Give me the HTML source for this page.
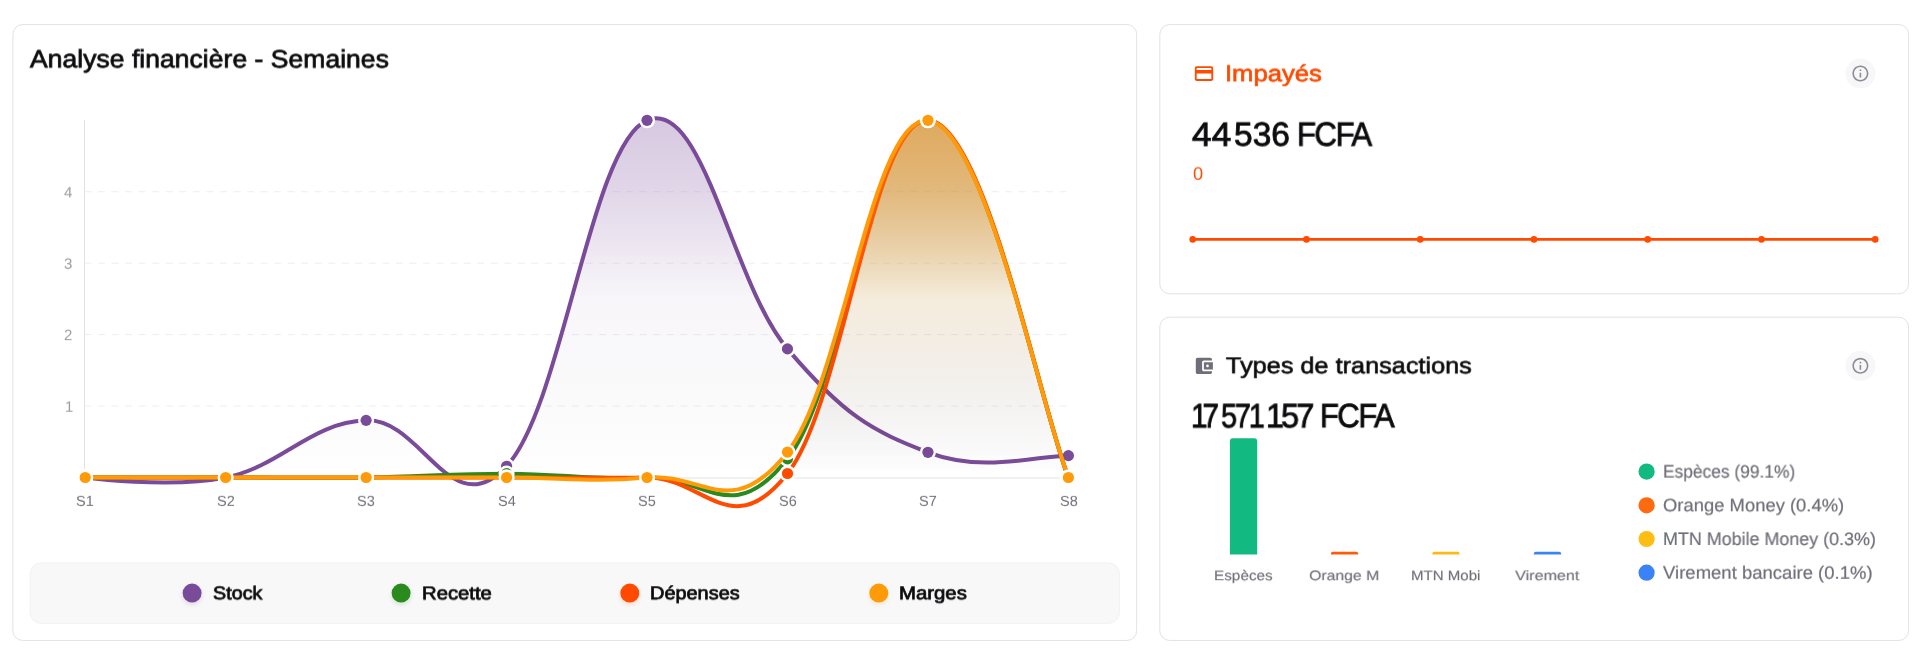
<!DOCTYPE html>
<html lang="fr">
<head>
<meta charset="utf-8">
<title>Analyse financière</title>
<style>
html,body{margin:0;padding:0;background:#fff;}
body{width:1920px;height:660px;position:relative;overflow:hidden;font-family:"Liberation Sans", sans-serif;}
.card{position:absolute;box-sizing:border-box;background:#fff;border:1.2px solid #e0e0e6;border-radius:9px;}
#c_main{left:12px;top:24px;width:1125px;height:617px;}
#c_imp{left:1159px;top:24px;width:750px;height:270px;}
#c_typ{left:1159px;top:316.5px;width:750px;height:324.5px;}
#legend{position:absolute;box-sizing:border-box;left:30px;top:562.5px;width:1089.5px;height:60px;background:#f8f8f9;border:1px solid #f1f1f3;border-radius:11px;}
svg{position:absolute;left:0;top:0;}
.t{position:absolute;white-space:nowrap;font-family:"Liberation Sans", sans-serif;transform-origin:0 50%;text-rendering:geometricPrecision;will-change:transform;}
#t_title{left:30.01px;top:47.00px;font-size:24.90px;line-height:24.90px;color:#0c0c0e;font-weight:400;transform:translateY(0.31px) rotate(.03deg) scaleX(1.0674);-webkit-text-stroke:0.75px #0c0c0e;}
#t_y4{left:63.50px;top:185.00px;font-size:15.00px;line-height:15.00px;color:#9a9aa0;font-weight:400;transform:translateY(0.35px) rotate(.03deg) scaleX(1.0000);}
#t_y3{left:64.06px;top:256.00px;font-size:15.00px;line-height:15.00px;color:#9a9aa0;font-weight:400;transform:translateY(0.80px) rotate(.03deg) scaleX(1.0000);}
#t_y2{left:63.50px;top:328.00px;font-size:15.00px;line-height:15.00px;color:#9a9aa0;font-weight:400;transform:translateY(0.15px) rotate(.03deg) scaleX(1.0000);}
#t_y1{left:65.21px;top:399.00px;font-size:15.00px;line-height:15.00px;color:#9a9aa0;font-weight:400;transform:translateY(0.70px) rotate(.03deg) scaleX(1.0000);}
#t_l1{left:212.67px;top:584.00px;font-size:18.50px;line-height:18.50px;color:#0c0c0e;font-weight:400;transform:translateY(0.27px) rotate(.03deg) scaleX(1.0684);-webkit-text-stroke:0.75px #0c0c0e;}
#t_l2{left:421.51px;top:584.00px;font-size:18.50px;line-height:18.50px;color:#0c0c0e;font-weight:400;transform:translateY(0.34px) rotate(.03deg) scaleX(1.0963);-webkit-text-stroke:0.75px #0c0c0e;}
#t_l3{left:650.47px;top:584.00px;font-size:18.50px;line-height:18.50px;color:#0c0c0e;font-weight:400;transform:translateY(0.21px) rotate(.03deg) scaleX(1.0766);-webkit-text-stroke:0.75px #0c0c0e;}
#t_l4{left:899.47px;top:584.00px;font-size:18.50px;line-height:18.50px;color:#0c0c0e;font-weight:400;transform:translateY(0.21px) rotate(.03deg) scaleX(1.1001);-webkit-text-stroke:0.75px #0c0c0e;}
#t_imp{left:1224.61px;top:62.00px;font-size:23.00px;line-height:23.00px;color:#ff4a00;font-weight:400;transform:translateY(0.25px) rotate(.03deg) scaleX(1.1143);-webkit-text-stroke:0.65px #ff4a00;}
#t_n1a{left:1192.37px;top:118.00px;font-size:33.50px;line-height:33.50px;color:#0c0c0e;font-weight:400;transform:translateY(0.79px) rotate(.03deg) scaleX(1.0521);-webkit-text-stroke:0.85px #0c0c0e;}
#t_n1b{left:1234.32px;top:118.00px;font-size:33.50px;line-height:33.50px;color:#0c0c0e;font-weight:400;transform:translateY(0.66px) rotate(.03deg) scaleX(0.9994);-webkit-text-stroke:0.85px #0c0c0e;}
#t_n1c{left:1296.61px;top:118.00px;font-size:33.50px;line-height:33.50px;color:#0c0c0e;font-weight:400;transform:translateY(0.69px) rotate(.03deg) scaleX(0.9297);-webkit-text-stroke:0.85px #0c0c0e;letter-spacing:-1.60px;}
#t_zero{left:1193.00px;top:164.00px;font-size:18.20px;line-height:18.20px;color:#ff4a00;font-weight:400;transform:translateY(0.75px) rotate(.03deg) scaleX(1.0000);}
#t_typ{left:1226.02px;top:354.00px;font-size:22.90px;line-height:22.90px;color:#0c0c0e;font-weight:400;transform:translateY(0.24px) rotate(.03deg) scaleX(1.1039);-webkit-text-stroke:0.60px #0c0c0e;}
#t_n2a{left:1190.92px;top:399.00px;font-size:33.90px;line-height:33.90px;color:#0c0c0e;font-weight:400;transform:translateY(1.39px) rotate(.03deg) scaleX(0.8737);-webkit-text-stroke:0.85px #0c0c0e;letter-spacing:-5.50px;}
#t_n2b{left:1221.43px;top:399.00px;font-size:33.90px;line-height:33.90px;color:#0c0c0e;font-weight:400;transform:translateY(1.39px) rotate(.03deg) scaleX(0.8535);-webkit-text-stroke:0.85px #0c0c0e;letter-spacing:-2.60px;}
#t_n2c{left:1266.31px;top:399.00px;font-size:33.90px;line-height:33.90px;color:#0c0c0e;font-weight:400;transform:translateY(1.31px) rotate(.03deg) scaleX(0.9573);-webkit-text-stroke:0.85px #0c0c0e;letter-spacing:-3.00px;}
#t_n2d{left:1319.75px;top:399.00px;font-size:33.50px;line-height:33.50px;color:#0c0c0e;font-weight:400;transform:translateY(1.11px) rotate(.03deg) scaleX(0.9237);-webkit-text-stroke:0.85px #0c0c0e;letter-spacing:-1.60px;}
#t_b1{left:1213.87px;top:569.00px;font-size:13.80px;line-height:13.80px;color:#70707a;font-weight:400;transform:translateY(0.20px) rotate(.03deg) scaleX(1.1098);-webkit-text-stroke:0.15px #70707a;}
#t_b2{left:1309.40px;top:569.00px;font-size:13.80px;line-height:13.80px;color:#70707a;font-weight:400;transform:translateY(0.20px) rotate(.03deg) scaleX(1.1451);-webkit-text-stroke:0.15px #70707a;}
#t_b3{left:1411.47px;top:569.00px;font-size:13.80px;line-height:13.80px;color:#70707a;font-weight:400;transform:translateY(0.20px) rotate(.03deg) scaleX(1.0917);-webkit-text-stroke:0.15px #70707a;}
#t_b4{left:1515.20px;top:569.00px;font-size:13.80px;line-height:13.80px;color:#70707a;font-weight:400;transform:translateY(0.20px) rotate(.03deg) scaleX(1.1720);-webkit-text-stroke:0.15px #70707a;}
#t_k1{left:1662.65px;top:462.00px;font-size:18.00px;line-height:18.00px;color:#6f6f79;font-weight:400;transform:translateY(0.60px) rotate(.03deg) scaleX(0.9652);-webkit-text-stroke:0.20px #6f6f79;}
#t_k2{left:1663.07px;top:496.00px;font-size:18.00px;line-height:18.00px;color:#6f6f79;font-weight:400;transform:translateY(0.30px) rotate(.03deg) scaleX(1.0233);-webkit-text-stroke:0.20px #6f6f79;}
#t_k3{left:1662.91px;top:530.00px;font-size:18.00px;line-height:18.00px;color:#6f6f79;font-weight:400;transform:translateY(-0.00px) rotate(.03deg) scaleX(0.9950);-webkit-text-stroke:0.20px #6f6f79;}
#t_k4{left:1663.42px;top:563.00px;font-size:18.00px;line-height:18.00px;color:#6f6f79;font-weight:400;transform:translateY(0.70px) rotate(.03deg) scaleX(1.0288);-webkit-text-stroke:0.20px #6f6f79;}
#t_x0{left:76.18px;top:494.00px;font-size:14.50px;line-height:14.50px;color:#70707a;font-weight:400;transform:translateY(0.84px) rotate(.03deg) scaleX(1.0000);}
#t_x1{left:216.71px;top:494.00px;font-size:14.50px;line-height:14.50px;color:#70707a;font-weight:400;transform:translateY(0.83px) rotate(.03deg) scaleX(1.0000);}
#t_x2{left:357.17px;top:494.00px;font-size:14.50px;line-height:14.50px;color:#70707a;font-weight:400;transform:translateY(0.83px) rotate(.03deg) scaleX(1.0000);}
#t_x3{left:497.51px;top:494.00px;font-size:14.50px;line-height:14.50px;color:#70707a;font-weight:400;transform:translateY(0.90px) rotate(.03deg) scaleX(1.0000);}
#t_x4{left:637.87px;top:494.00px;font-size:14.50px;line-height:14.50px;color:#70707a;font-weight:400;transform:translateY(0.83px) rotate(.03deg) scaleX(1.0000);}
#t_x5{left:778.65px;top:494.00px;font-size:14.50px;line-height:14.50px;color:#70707a;font-weight:400;transform:translateY(0.83px) rotate(.03deg) scaleX(1.0000);}
#t_x6{left:919.49px;top:494.00px;font-size:14.50px;line-height:14.50px;color:#70707a;font-weight:400;transform:translateY(0.84px) rotate(.03deg) scaleX(1.0000);}
#t_x7{left:1059.50px;top:494.00px;font-size:14.50px;line-height:14.50px;color:#70707a;font-weight:400;transform:translateY(0.89px) rotate(.03deg) scaleX(1.0000);}
</style>
</head>
<body>
<svg width="1920" height="660" viewBox="0 0 1920 660">
<g fill="#fff" stroke="#e2e2e8" stroke-width="1">
<rect x="12.9" y="24.55" width="1123.75" height="615.9" rx="9.8"/>
<rect x="1159.8" y="24.55" width="748.75" height="269.25" rx="9.8"/>
<rect x="1159.8" y="317.2" width="748.75" height="323.25" rx="9.8"/>
</g>
<rect x="30.15" y="562.9" width="1089.3" height="60.5" rx="11" fill="#f8f8f9" stroke="#f2f2f4" stroke-width="1"/>
<defs><filter id="blur" x="-50%" y="-50%" width="200%" height="200%"><feGaussianBlur stdDeviation="2"/></filter></defs>
<defs>
<linearGradient id="g_stk" gradientUnits="userSpaceOnUse" x1="0" y1="120.3" x2="0" y2="477.5"><stop offset="0.000" stop-color="#7a4b99" stop-opacity="0.300"/><stop offset="0.200" stop-color="#7a4b99" stop-opacity="0.225"/><stop offset="0.500" stop-color="#7a4b99" stop-opacity="0.050"/><stop offset="1.000" stop-color="#000000" stop-opacity="0.000"/></linearGradient>
<linearGradient id="g_rec" gradientUnits="userSpaceOnUse" x1="0" y1="120.3" x2="0" y2="477.5"><stop offset="0.000" stop-color="#2a8a1e" stop-opacity="0.300"/><stop offset="0.200" stop-color="#2a8a1e" stop-opacity="0.225"/><stop offset="0.500" stop-color="#2a8a1e" stop-opacity="0.050"/><stop offset="1.000" stop-color="#000000" stop-opacity="0.000"/></linearGradient>
<linearGradient id="g_dep" gradientUnits="userSpaceOnUse" x1="0" y1="120.3" x2="0" y2="477.5"><stop offset="0.000" stop-color="#ff4a00" stop-opacity="0.300"/><stop offset="0.200" stop-color="#ff4a00" stop-opacity="0.225"/><stop offset="0.500" stop-color="#ff4a00" stop-opacity="0.050"/><stop offset="1.000" stop-color="#000000" stop-opacity="0.000"/></linearGradient>
<linearGradient id="g_mar" gradientUnits="userSpaceOnUse" x1="0" y1="120.3" x2="0" y2="477.5"><stop offset="0.000" stop-color="#ff9a08" stop-opacity="0.300"/><stop offset="0.200" stop-color="#ff9a08" stop-opacity="0.225"/><stop offset="0.500" stop-color="#ff9a08" stop-opacity="0.050"/><stop offset="1.000" stop-color="#000000" stop-opacity="0.000"/></linearGradient>
<clipPath id="cfill"><rect x="0" y="0" width="1920" height="477.5"/></clipPath>
</defs>
<line x1="84.5" y1="120" x2="84.5" y2="478.5" stroke="#e1e1e5" stroke-width="1"/>
<line x1="84" y1="478" x2="1068.5" y2="478" stroke="#e2e2e5" stroke-width="1"/>
<line x1="84.5" y1="406.06" x2="1068.5" y2="406.06" stroke="#eeeef1" stroke-width="1" stroke-dasharray="7 6.54"/>
<line x1="84.5" y1="334.62" x2="1068.5" y2="334.62" stroke="#eeeef1" stroke-width="1" stroke-dasharray="7 6.54"/>
<line x1="84.5" y1="263.18" x2="1068.5" y2="263.18" stroke="#eeeef1" stroke-width="1" stroke-dasharray="7 6.54"/>
<line x1="84.5" y1="191.74" x2="1068.5" y2="191.74" stroke="#eeeef1" stroke-width="1" stroke-dasharray="7 6.54"/>
<path d="M85.20 477.50C85.20 477.50 169.47 488.93 225.66 477.50C281.84 466.07 309.93 422.59 366.11 420.35C422.30 418.10 450.39 526.29 506.57 466.28C562.75 406.27 590.85 143.78 647.03 120.30C703.21 96.82 731.30 282.51 787.49 348.91C843.67 415.30 871.76 430.94 927.94 452.28C984.13 473.63 1040.31 454.97 1068.40 455.64L1068.40 477.50 L85.20 477.50 Z" fill="url(#g_stk)" clip-path="url(#cfill)"/>
<path d="M85.20 477.50C85.20 477.50 169.47 488.93 225.66 477.50C281.84 466.07 309.93 422.59 366.11 420.35C422.30 418.10 450.39 526.29 506.57 466.28C562.75 406.27 590.85 143.78 647.03 120.30C703.21 96.82 731.30 282.51 787.49 348.91C843.67 415.30 871.76 430.94 927.94 452.28C984.13 473.63 1040.31 454.97 1068.40 455.64" fill="none" stroke="#7a4b99" stroke-width="4.00" stroke-linecap="round" stroke-linejoin="round"/>
<circle cx="85.20" cy="477.50" r="8.05" fill="#fff"/>
<circle cx="85.20" cy="477.50" r="5.60" fill="#7a4b99"/>
<circle cx="225.66" cy="477.50" r="8.05" fill="#fff"/>
<circle cx="225.66" cy="477.50" r="5.60" fill="#7a4b99"/>
<circle cx="366.11" cy="420.35" r="8.05" fill="#fff"/>
<circle cx="366.11" cy="420.35" r="5.60" fill="#7a4b99"/>
<circle cx="506.57" cy="466.28" r="8.05" fill="#fff"/>
<circle cx="506.57" cy="466.28" r="5.60" fill="#7a4b99"/>
<circle cx="647.03" cy="120.30" r="8.05" fill="#fff"/>
<circle cx="647.03" cy="120.30" r="5.60" fill="#7a4b99"/>
<circle cx="787.49" cy="348.91" r="8.05" fill="#fff"/>
<circle cx="787.49" cy="348.91" r="5.60" fill="#7a4b99"/>
<circle cx="927.94" cy="452.28" r="8.05" fill="#fff"/>
<circle cx="927.94" cy="452.28" r="5.60" fill="#7a4b99"/>
<circle cx="1068.40" cy="455.64" r="8.05" fill="#fff"/>
<circle cx="1068.40" cy="455.64" r="5.60" fill="#7a4b99"/>
<path d="M85.20 477.50C85.20 477.50 169.47 477.50 225.66 477.50C281.84 477.50 309.93 478.27 366.11 477.50C422.30 476.73 450.39 473.64 506.57 473.64C562.75 473.64 590.85 480.47 647.03 477.50C703.21 474.53 731.30 530.22 787.49 458.78C843.67 387.34 871.76 116.56 927.94 120.30C984.13 124.04 1040.31 406.06 1068.40 477.50L1068.40 477.50 L85.20 477.50 Z" fill="url(#g_rec)" clip-path="url(#cfill)"/>
<path d="M85.20 477.50C85.20 477.50 169.47 477.50 225.66 477.50C281.84 477.50 309.93 478.27 366.11 477.50C422.30 476.73 450.39 473.64 506.57 473.64C562.75 473.64 590.85 480.47 647.03 477.50C703.21 474.53 731.30 530.22 787.49 458.78C843.67 387.34 871.76 116.56 927.94 120.30C984.13 124.04 1040.31 406.06 1068.40 477.50" fill="none" stroke="#2a8a1e" stroke-width="4.00" stroke-linecap="round" stroke-linejoin="round"/>
<circle cx="85.20" cy="477.50" r="8.05" fill="#fff"/>
<circle cx="85.20" cy="477.50" r="5.60" fill="#2a8a1e"/>
<circle cx="225.66" cy="477.50" r="8.05" fill="#fff"/>
<circle cx="225.66" cy="477.50" r="5.60" fill="#2a8a1e"/>
<circle cx="366.11" cy="477.50" r="8.05" fill="#fff"/>
<circle cx="366.11" cy="477.50" r="5.60" fill="#2a8a1e"/>
<circle cx="506.57" cy="473.64" r="8.05" fill="#fff"/>
<circle cx="506.57" cy="473.64" r="5.60" fill="#2a8a1e"/>
<circle cx="647.03" cy="477.50" r="8.05" fill="#fff"/>
<circle cx="647.03" cy="477.50" r="5.60" fill="#2a8a1e"/>
<circle cx="787.49" cy="458.78" r="8.05" fill="#fff"/>
<circle cx="787.49" cy="458.78" r="5.60" fill="#2a8a1e"/>
<circle cx="927.94" cy="120.30" r="8.05" fill="#fff"/>
<circle cx="927.94" cy="120.30" r="5.60" fill="#2a8a1e"/>
<circle cx="1068.40" cy="477.50" r="8.05" fill="#fff"/>
<circle cx="1068.40" cy="477.50" r="5.60" fill="#2a8a1e"/>
<path d="M85.20 477.50C85.20 477.50 169.47 477.50 225.66 477.50C281.84 477.50 309.93 477.50 366.11 477.50C422.30 477.50 450.39 477.50 506.57 477.50C562.75 477.50 590.85 478.30 647.03 477.50C703.21 476.70 731.30 544.94 787.49 473.50C843.67 402.06 871.76 119.50 927.94 120.30C984.13 121.10 1040.31 406.06 1068.40 477.50L1068.40 477.50 L85.20 477.50 Z" fill="url(#g_dep)" clip-path="url(#cfill)"/>
<path d="M85.20 477.50C85.20 477.50 169.47 477.50 225.66 477.50C281.84 477.50 309.93 477.50 366.11 477.50C422.30 477.50 450.39 477.50 506.57 477.50C562.75 477.50 590.85 478.30 647.03 477.50C703.21 476.70 731.30 544.94 787.49 473.50C843.67 402.06 871.76 119.50 927.94 120.30C984.13 121.10 1040.31 406.06 1068.40 477.50" fill="none" stroke="#ff4a00" stroke-width="4.00" stroke-linecap="round" stroke-linejoin="round"/>
<circle cx="85.20" cy="477.50" r="8.05" fill="#fff"/>
<circle cx="85.20" cy="477.50" r="5.60" fill="#ff4a00"/>
<circle cx="225.66" cy="477.50" r="8.05" fill="#fff"/>
<circle cx="225.66" cy="477.50" r="5.60" fill="#ff4a00"/>
<circle cx="366.11" cy="477.50" r="8.05" fill="#fff"/>
<circle cx="366.11" cy="477.50" r="5.60" fill="#ff4a00"/>
<circle cx="506.57" cy="477.50" r="8.05" fill="#fff"/>
<circle cx="506.57" cy="477.50" r="5.60" fill="#ff4a00"/>
<circle cx="647.03" cy="477.50" r="8.05" fill="#fff"/>
<circle cx="647.03" cy="477.50" r="5.60" fill="#ff4a00"/>
<circle cx="787.49" cy="473.50" r="8.05" fill="#fff"/>
<circle cx="787.49" cy="473.50" r="5.60" fill="#ff4a00"/>
<circle cx="927.94" cy="120.30" r="8.05" fill="#fff"/>
<circle cx="927.94" cy="120.30" r="5.60" fill="#ff4a00"/>
<circle cx="1068.40" cy="477.50" r="8.05" fill="#fff"/>
<circle cx="1068.40" cy="477.50" r="5.60" fill="#ff4a00"/>
<path d="M85.20 477.50C85.20 477.50 169.47 477.50 225.66 477.50C281.84 477.50 309.93 477.50 366.11 477.50C422.30 477.50 450.39 477.50 506.57 477.50C562.75 477.50 590.85 482.57 647.03 477.50C703.21 472.43 731.30 523.58 787.49 452.14C843.67 380.70 871.76 115.23 927.94 120.30C984.13 125.37 1040.31 406.06 1068.40 477.50L1068.40 477.50 L85.20 477.50 Z" fill="url(#g_mar)" clip-path="url(#cfill)"/>
<path d="M85.20 477.50C85.20 477.50 169.47 477.50 225.66 477.50C281.84 477.50 309.93 477.50 366.11 477.50C422.30 477.50 450.39 477.50 506.57 477.50C562.75 477.50 590.85 482.57 647.03 477.50C703.21 472.43 731.30 523.58 787.49 452.14C843.67 380.70 871.76 115.23 927.94 120.30C984.13 125.37 1040.31 406.06 1068.40 477.50" fill="none" stroke="#ff9a08" stroke-width="4.00" stroke-linecap="round" stroke-linejoin="round"/>
<circle cx="85.20" cy="477.50" r="8.05" fill="#fff"/>
<circle cx="85.20" cy="477.50" r="5.60" fill="#ff9a08"/>
<circle cx="225.66" cy="477.50" r="8.05" fill="#fff"/>
<circle cx="225.66" cy="477.50" r="5.60" fill="#ff9a08"/>
<circle cx="366.11" cy="477.50" r="8.05" fill="#fff"/>
<circle cx="366.11" cy="477.50" r="5.60" fill="#ff9a08"/>
<circle cx="506.57" cy="477.50" r="8.05" fill="#fff"/>
<circle cx="506.57" cy="477.50" r="5.60" fill="#ff9a08"/>
<circle cx="647.03" cy="477.50" r="8.05" fill="#fff"/>
<circle cx="647.03" cy="477.50" r="5.60" fill="#ff9a08"/>
<circle cx="787.49" cy="452.14" r="8.05" fill="#fff"/>
<circle cx="787.49" cy="452.14" r="5.60" fill="#ff9a08"/>
<circle cx="927.94" cy="120.30" r="8.05" fill="#fff"/>
<circle cx="927.94" cy="120.30" r="5.60" fill="#ff9a08"/>
<circle cx="1068.40" cy="477.50" r="8.05" fill="#fff"/>
<circle cx="1068.40" cy="477.50" r="5.60" fill="#ff9a08"/>
<circle cx="192.1" cy="595.2" r="10" fill="#7a4b99" opacity=".16" filter="url(#blur)"/>
<circle cx="192.1" cy="593.1" r="9.5" fill="#7a4b99"/>
<circle cx="401.1" cy="595.2" r="10" fill="#2a8a1e" opacity=".16" filter="url(#blur)"/>
<circle cx="401.1" cy="593.1" r="9.5" fill="#2a8a1e"/>
<circle cx="629.8" cy="595.2" r="10" fill="#ff4a00" opacity=".16" filter="url(#blur)"/>
<circle cx="629.8" cy="593.1" r="9.5" fill="#ff4a00"/>
<circle cx="878.8" cy="595.2" r="10" fill="#ff9a08" opacity=".16" filter="url(#blur)"/>
<circle cx="878.8" cy="593.1" r="9.5" fill="#ff9a08"/>
<g transform="translate(1193 62.6) scale(.9167)" fill="#ff4a00"><path d="M20 4H4c-1.11 0-1.99.89-1.99 2L2 18c0 1.11.89 2 2 2h16c1.11 0 2-.89 2-2V6c0-1.11-.89-2-2-2zm0 14H4v-6h16v6zm0-10H4V6h16v2z"/></g>
<g transform="translate(1193.1 355.1) scale(.9)" fill="#706f79"><path d="M21 18v1c0 1.1-.9 2-2 2H5c-1.11 0-2-.9-2-2V5c0-1.1.89-2 2-2h14c1.1 0 2 .9 2 2v1h-9c-1.11 0-2 .9-2 2v8c0 1.1.89 2 2 2h9zm-9-2h10V8H12v8zm4-2.5c-.83 0-1.5-.67-1.5-1.5s.67-1.5 1.5-1.5 1.5.67 1.5 1.5-.67 1.5-1.5 1.5z"/></g>
<circle cx="1860.4" cy="73.5" r="15" fill="#f7f7f9"/>
<g transform="translate(1850.80 63.90) scale(.8)" fill="#8d8d94"><path d="M11 7h2v2h-2zm0 4h2v6h-2zm1-9C6.48 2 2 6.48 2 12s4.48 10 10 10 10-4.48 10-10S17.52 2 12 2zm0 18c-4.41 0-8-3.59-8-8s3.59-8 8-8 8 3.59 8 8-3.59 8-8 8z"/></g>
<circle cx="1860.4" cy="365.8" r="15" fill="#f7f7f9"/>
<g transform="translate(1850.80 356.20) scale(.8)" fill="#8d8d94"><path d="M11 7h2v2h-2zm0 4h2v6h-2zm1-9C6.48 2 2 6.48 2 12s4.48 10 10 10 10-4.48 10-10S17.52 2 12 2zm0 18c-4.41 0-8-3.59-8-8s3.59-8 8-8 8 3.59 8 8-3.59 8-8 8z"/></g>
<line x1="1192.7" y1="239.4" x2="1875.2" y2="239.4" stroke="#ff4a00" stroke-width="2.6"/>
<circle cx="1192.70" cy="239.4" r="3.3" fill="#ff4a00"/>
<circle cx="1306.45" cy="239.4" r="3.3" fill="#ff4a00"/>
<circle cx="1420.20" cy="239.4" r="3.3" fill="#ff4a00"/>
<circle cx="1533.95" cy="239.4" r="3.3" fill="#ff4a00"/>
<circle cx="1647.70" cy="239.4" r="3.3" fill="#ff4a00"/>
<circle cx="1761.45" cy="239.4" r="3.3" fill="#ff4a00"/>
<circle cx="1875.20" cy="239.4" r="3.3" fill="#ff4a00"/>
<path d="M1229.9 554.6V441.2a3.0 3.0 0 0 1 3.0 -3.0H1254.2a3.0 3.0 0 0 1 3.0 3.0V554.6Z" fill="#12b981"/>
<path d="M1330.9 554.6V553.8a2.0 2.0 0 0 1 2.0 -2.0H1356.2a2.0 2.0 0 0 1 2.0 2.0V554.6Z" fill="#ff5a0c"/>
<path d="M1432.3 554.6V553.8a2.0 2.0 0 0 1 2.0 -2.0H1457.6a2.0 2.0 0 0 1 2.0 2.0V554.6Z" fill="#fdb914"/>
<path d="M1533.8 554.6V553.8a2.0 2.0 0 0 1 2.0 -2.0H1559.1a2.0 2.0 0 0 1 2.0 2.0V554.6Z" fill="#3b82f6"/>
<circle cx="1646.6" cy="471.6" r="8.1" fill="#12b981"/>
<circle cx="1646.6" cy="505.3" r="8.1" fill="#fd6a10"/>
<circle cx="1646.6" cy="539.0" r="8.1" fill="#fdbd12"/>
<circle cx="1646.6" cy="572.7" r="8.1" fill="#3b82f6"/>
</svg>
<div class="t" id="t_title">Analyse financière - Semaines</div>
<div class="t" id="t_y4">4</div>
<div class="t" id="t_y3">3</div>
<div class="t" id="t_y2">2</div>
<div class="t" id="t_y1">1</div>
<div class="t" id="t_l1">Stock</div>
<div class="t" id="t_l2">Recette</div>
<div class="t" id="t_l3">Dépenses</div>
<div class="t" id="t_l4">Marges</div>
<div class="t" id="t_imp">Impayés</div>
<div class="t" id="t_n1a">44</div>
<div class="t" id="t_n1b">536</div>
<div class="t" id="t_n1c">FCFA</div>
<div class="t" id="t_zero">0</div>
<div class="t" id="t_typ">Types de transactions</div>
<div class="t" id="t_n2a">17</div>
<div class="t" id="t_n2b">571</div>
<div class="t" id="t_n2c">157</div>
<div class="t" id="t_n2d">FCFA</div>
<div class="t" id="t_b1">Espèces</div>
<div class="t" id="t_b2">Orange M</div>
<div class="t" id="t_b3">MTN Mobi</div>
<div class="t" id="t_b4">Virement</div>
<div class="t" id="t_k1">Espèces (99.1%)</div>
<div class="t" id="t_k2">Orange Money (0.4%)</div>
<div class="t" id="t_k3">MTN Mobile Money (0.3%)</div>
<div class="t" id="t_k4">Virement bancaire (0.1%)</div>
<div class="t" id="t_x0">S1</div>
<div class="t" id="t_x1">S2</div>
<div class="t" id="t_x2">S3</div>
<div class="t" id="t_x3">S4</div>
<div class="t" id="t_x4">S5</div>
<div class="t" id="t_x5">S6</div>
<div class="t" id="t_x6">S7</div>
<div class="t" id="t_x7">S8</div>
</body>
</html>
